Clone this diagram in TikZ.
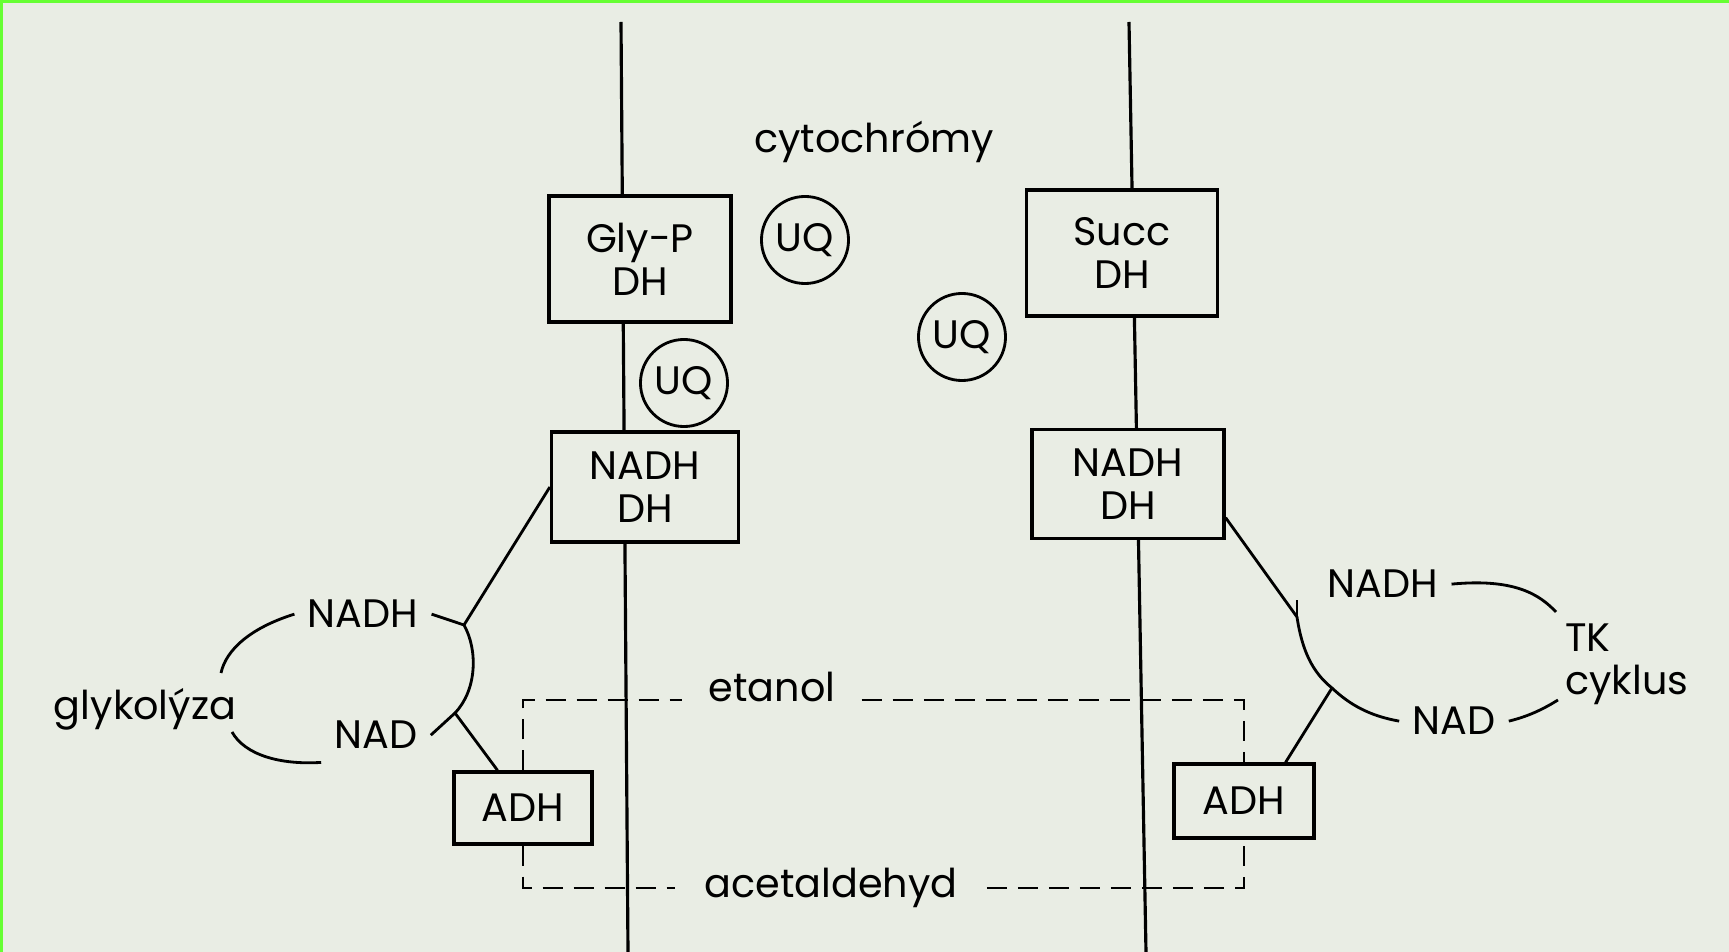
\documentclass[tikz,border=0pt]{standalone}
\usepackage{fontspec}
\setmainfont{Poppins}
\usetikzlibrary{calc}

\definecolor{paper}{RGB}{233,237,228}
\definecolor{edgegreen}{RGB}{102,255,51}

\tikzset{
  enzym/.style={shape=rectangle, draw=black, line width=0.9pt, fill=paper, align=center, inner sep=0pt},
  uq/.style={shape=circle, draw=black, line width=0.8pt, minimum size=0.87cm, inner sep=0pt},
  lbl/.style={inner sep=0.12cm},
  membrane/.style={line width=0.9pt},
  shuttle/.style={line width=0.8pt, dash pattern=on 0.2cm off 0.11cm},
}

\begin{document}
\begin{tikzpicture}[x=0.01cm, y=-0.01cm, font=\fontsize{11.3}{12.3}\selectfont, line width=0.8pt]

	\fill[paper] (0,0) rectangle (1729,952);
	\fill[edgegreen] (0,0) rectangle (1729,3);
	\fill[edgegreen] (0,0) rectangle (3,952);
	\useasboundingbox (0,0) rectangle (1729,952);

	% membranes
	\coordinate (m1top) at (621,22);
	\coordinate (m1bot) at (628,952);
	\coordinate (m2top) at (1129,22);
	\coordinate (m2bot) at (1146,952);
	\draw[membrane] (m1top) -- (m1bot);
	\draw[membrane] (m2top) -- (m2bot);

	\node[lbl, anchor=base] (cyto) at (874,153) {cytochrómy};

	\node[enzym, minimum width=1.82cm, minimum height=1.26cm] (glyp) at (640,259) {Gly-P\\DH};
	\node[enzym, minimum width=1.87cm, minimum height=1.10cm] (nadhL) at (645,487) {NADH\\DH};
	\node[enzym, minimum width=1.91cm, minimum height=1.26cm] (succ) at (1122,253) {Succ\\DH};
	\node[enzym, minimum width=1.92cm, minimum height=1.09cm] (nadhR) at (1128,484) {NADH\\DH};
	\node[enzym, minimum width=1.38cm, minimum height=0.72cm] (adhL) at (523,808) {ADH};
	\node[enzym, minimum width=1.40cm, minimum height=0.74cm] (adhR) at (1244,801) {ADH};

	\node[uq] (uq1) at (805,240) {UQ};
	\node[uq] (uq2) at (962,337) {UQ};
	\node[uq] (uq3) at (684,383) {UQ};

	\node[lbl, anchor=base] (nadhLt) at (363,628) {NADH};
	\node[lbl, anchor=base] (nadLt) at (376,749) {NAD};
	\node[lbl, anchor=base] (glyk) at (145,720) {glykolýza};
	\node[lbl, anchor=base] (nadhRt) at (1383,598) {NADH};
	\node[lbl, anchor=base] (nadRt) at (1454,735) {NAD};
	\node[lbl, anchor=west, align=left] (tk) at (1552,664) {TK\\cyklus};
	\node[lbl, anchor=base, inner xsep=0.25cm] (etanol) at (772,702) {etanol};
	\node[lbl, anchor=base, inner xsep=0.28cm] (acet) at (831,898) {acetaldehyd};

	% glykolyza side
	\coordinate (jL1) at (464,625);
	\coordinate (jL2) at (455,713);
	\coordinate (glyA) at (221,673);
	\coordinate (glyB) at (232,732);
	\draw (nadhL.west) -- (jL1);
	\draw (nadhLt.east) -- (jL1) .. controls (478,650) and (477,690) .. (jL2) -- (nadLt.east);
	\draw (jL2) -- ($(adhL.north west)!0.32!(adhL.north east)$);
	\draw (nadhLt.west) .. controls (250,628) and (226,650) .. (glyA);
	\draw (glyB) .. controls (245,755) and (280,765) .. (nadLt.south west);

	% TK cyklus side
	\coordinate (jR0) at (1297,617);
	\coordinate (jR1) at (1332,688);
	\draw ($(nadhR.north east)!0.8!(nadhR.south east)$) -- (jR0)
		.. controls (1302,650) and (1312,672) .. (jR1)
		.. controls (1350,705) and (1370,716) .. (nadRt.west);
	\draw (jR0) -- ++(0,-17);
	\draw (jR1) -- ($(adhR.north west)!0.79!(adhR.north east)$);
	\draw (nadhRt.east) .. controls (1515,578) and (1540,595) .. ($(tk.north west)+(4,2)$);
	\draw (nadRt.east) .. controls (1530,716) and (1545,708) .. ($(tk.west)+(6,36)$);

	% etanol / acetaldehyd shuttle
	\coordinate (etLine) at ($(etanol.base)+(0,-2)$);
	\coordinate (acLine) at ($(acet.base)+(0,-10)$);
	\draw[shuttle] (adhL.north) -- (adhL.north |- etLine) -- (etLine -| etanol.west);
	\draw[shuttle] (etLine -| etanol.east) -- (adhR.north |- etLine) -- (adhR.north);
	\draw[shuttle] (adhL.south) -- (adhL.south |- acLine) -- (acLine -| acet.west);
	\draw[shuttle] (acLine -| acet.east) -- (adhR.south |- acLine) -- (adhR.south);

\end{tikzpicture}
\end{document}
